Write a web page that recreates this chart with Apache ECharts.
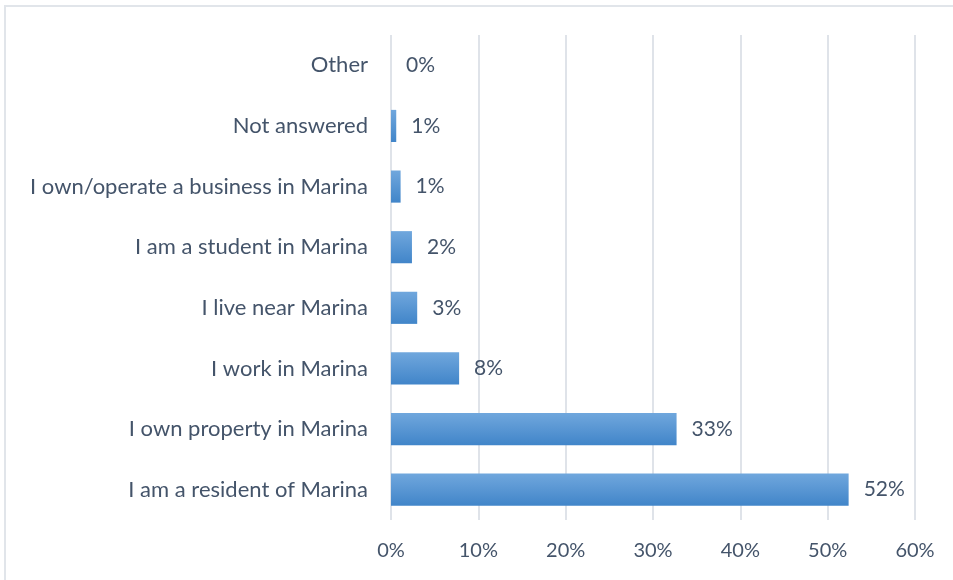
<!DOCTYPE html>
<html><head><meta charset="utf-8">
<script src="https://cdn.jsdelivr.net/npm/echarts@6/dist/echarts.min.js"></script>
<style>html,body{margin:0;padding:0;background:#fff}#c{width:953px;height:580px}</style>
</head><body><div id="c"></div>
<script>
const categories = ["I am a resident of Marina","I own property in Marina","I work in Marina","I live near Marina","I am a student in Marina","I own/operate a business in Marina","Not answered","Other"];
const values = [52.4, 32.7, 7.8, 3.0, 2.4, 1.1, 0.6, 0];
const xTicks = [0, 10, 20, 30, 40, 50, 60];
const txt = '#44546a';
const font = 'Lato';
const chart = echarts.init(document.getElementById('c'));
chart.setOption({
  animation: false,
  graphic: [{type:'rect', shape:{x:5,y:6,width:1000,height:700}, style:{fill:'none', stroke:'#e1e5ea', lineWidth:2}, z:-1}],
  grid: {left: 391, right: 38, top: 35, bottom: 60, containLabel: false},
  xAxis: {type:'value', min: xTicks[0], max: xTicks[xTicks.length-1], interval: 10,
    axisLine:{show:false}, axisTick:{show:false},
    splitLine:{lineStyle:{color:'#dfe3e9', width:2}},
    axisLabel:{formatter: v => v + '%', color: txt, fontSize: 20, fontFamily: font, margin: 21}},
  yAxis: {type:'category', data: categories,
    axisLine:{show:false}, axisTick:{show:false},
    axisLabel:{color: txt, fontSize: 22, fontFamily: font, margin: 23}},
  series: [{type:'bar', data: values, barWidth: '53%',
    itemStyle:{color: new echarts.graphic.LinearGradient(0,0,0,1,[{offset:0,color:'#70a7dd'},{offset:1,color:'#4185c9'}])},
    label:{show:true, position:'right', distance: 15, color: txt, fontSize: 21, fontFamily: font,
      formatter: p => Math.round(p.value) + '%'}}]
});
</script></body></html>
